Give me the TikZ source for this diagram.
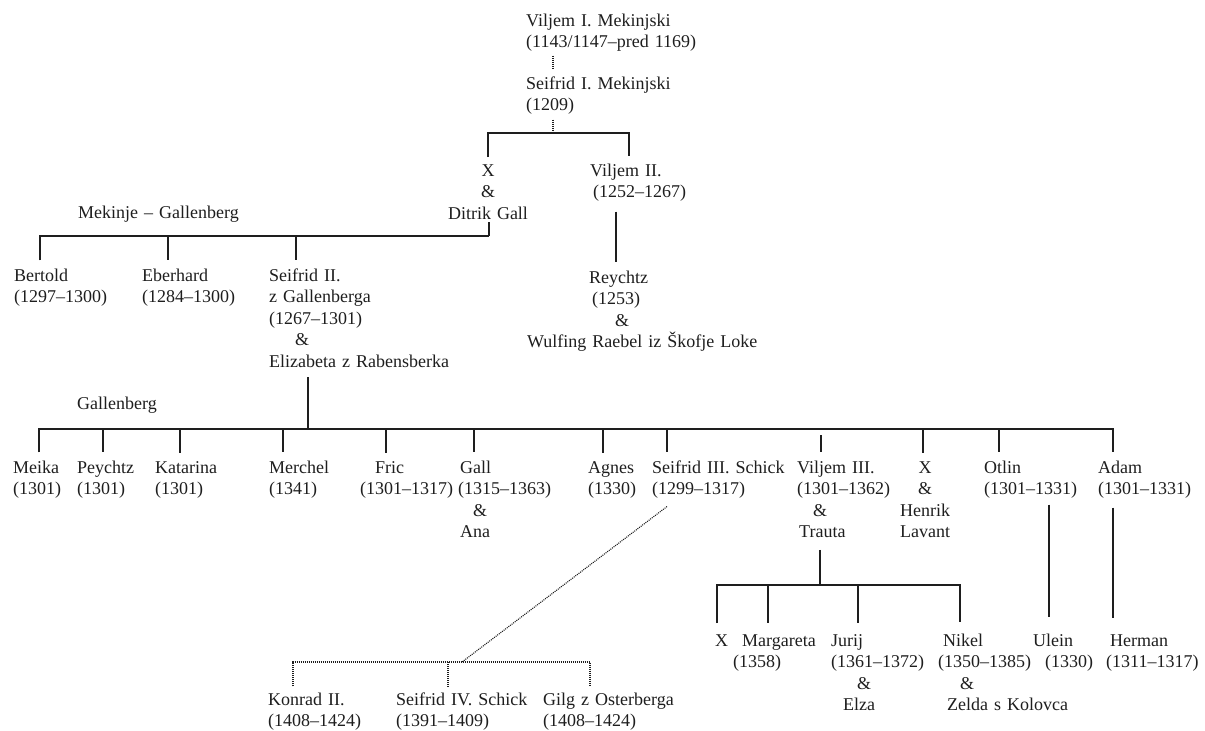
\documentclass[tikz,border=0pt]{standalone}
\usepackage{fontspec}
\setmainfont{Liberation Serif}
\usepackage{tikz}
\usetikzlibrary{calc}
\definecolor{ink}{HTML}{1E1E1E}
\tikzset{
  person/.style={inner sep=0pt, anchor=base west, text width=250pt, align=left, text=ink},
  couple/.style={inner sep=0pt, anchor=base, text width=120pt, align=center, text=ink},
  branch/.style={draw=ink, line width=1.4pt},
  dots/.style={draw=ink, line width=1.1pt, dash pattern=on 1pt off 1pt},
  drop/.style={branch, shorten >=8pt},
}

\begin{document}
\begin{tikzpicture}[x=1pt, y=-1pt, font=\fontsize{18}{21.5}\selectfont]
\useasboundingbox (0,0) rectangle (1205,731);

% first generations
\node[person] (viljem1) at (526,26) {Viljem I. Mekinjski\\(1143/1147--pred 1169)};
\node[person] (seifrid1) at (526,89) {Seifrid I. Mekinjski\\(1209)};
\node[couple] (xgall) at (488,176) {X\\\&\\Ditrik Gall};
\node[person] (viljem2) at (590,176) {Viljem II.\\\hspace*{3pt}(1252--1267)};
\node[person] (reychtz) at (527,283) {\hspace*{62pt}Reychtz\\\hspace*{65pt}(1253)\\\hspace*{88pt}\&\\Wulfing Raebel iz Škofje Loke};

\coordinate (fam1) at (553,133);
\draw[dots, shorten <=4pt, shorten >=8pt] (553,0 |- viljem1.south) -- (553,0 |- seifrid1.north);
\draw[dots, shorten <=5pt] (553,0 |- seifrid1.south) -- (fam1);
\draw[branch, shorten <=7pt, shorten >=7pt] (488,0 |- xgall.north) -- (488,0 |- fam1)
  -- (629,0 |- fam1) -- (629,0 |- viljem2.north);
\draw[branch, shorten <=10pt, shorten >=8pt] (616,0 |- viljem2.south) -- (616,0 |- reychtz.north);

% Mekinje - Gallenberg
\node[person] (mekinje) at (78,218) {Mekinje -- Gallenberg};
\node[person] (bertold) at (14,281) {Bertold\\(1297--1300)};
\node[person] (eberhard) at (142,281) {Eberhard\\(1284--1300)};
\node[person] (seifrid2) at (269,281) {Seifrid II.\\z Gallenberga\\(1267--1301)\\\hspace*{26pt}\&\\Elizabeta z Rabensberka};

\coordinate (fam2) at (489,236);
\draw[branch, shorten <=3pt] (489,0 |- xgall.south) -- (fam2);
\draw[branch, shorten <=8pt] (40,0 |- bertold.north) -- (40,0 |- fam2) -- (fam2);
\draw[drop] (168,0 |- fam2) -- (168,0 |- eberhard.north);
\draw[drop] (296,0 |- fam2) -- (296,0 |- seifrid2.north);

% Gallenberg
\node[person] (gallenberg) at (77,409) {Gallenberg};
\node[person] (meika) at (13,473) {Meika\\(1301)};
\node[person] (peychtz) at (77,473) {Peychtz\\(1301)};
\node[person] (katarina) at (155,473) {Katarina\\(1301)};
\node[person] (merchel) at (269,473) {Merchel\\(1341)};
\node[person] (fric) at (360,473) {\hspace*{15pt}Fric\\(1301--1317)};
\node[person] (gall) at (458,473) {\hspace*{2pt}Gall\\(1315--1363)\\\hspace*{15pt}\&\\\hspace*{2pt}Ana};
\node[person] (agnes) at (588,473) {Agnes\\(1330)};
\node[person] (seifrid3) at (652,473) {Seifrid III. Schick\\(1299--1317)};
\node[person] (viljem3) at (797,473) {Viljem III.\\(1301--1362)\\\hspace*{16pt}\&\\\hspace*{2pt}Trauta};
\node[couple] (xlavant) at (925,473) {X\\\&\\Henrik\\Lavant};
\node[person] (otlin) at (984,473) {Otlin\\(1301--1331)};
\node[person] (adam) at (1098,473) {Adam\\(1301--1331)};

\coordinate (fam3) at (308,429);
\coordinate (v3top) at (821,435);
\draw[branch, shorten <=10pt] (308,0 |- seifrid2.south) -- (fam3);
\draw[branch, shorten <=8pt, shorten >=8pt] (39,0 |- meika.north) -- (39,0 |- fam3)
  -- (1113,0 |- fam3) -- (1113,0 |- adam.north);
\foreach \x/\n in {103/peychtz, 180/katarina, 283/merchel, 386/fric, 474/gall,
  603/agnes, 667/seifrid3, 923/xlavant, 999/otlin}
  \draw[drop] (\x,0 |- fam3) -- (\x,0 |- \n.north);
\draw[drop] (v3top) -- (821,0 |- viljem3.north);

% children of Viljem III., Otlin and Adam
\node[person] (xchild) at (715,646) {X};
\node[person] (margareta) at (733,646) {\hspace*{9pt}Margareta\\(1358)};
\node[person] (jurij) at (831,646) {Jurij\\(1361--1372)\\\hspace*{26pt}\&\\\hspace*{12pt}Elza};
\node[person] (nikel) at (938,646) {\hspace*{5pt}Nikel\\(1350--1385)\\\hspace*{22pt}\&\\\hspace*{9pt}Zelda s Kolovca};
\node[person] (ulein) at (1033,646) {Ulein\\\hspace*{12pt}(1330)};
\node[person] (herman) at (1106,646) {\hspace*{4pt}Herman\\(1311--1317)};

\coordinate (fam4) at (820,585);
\draw[branch, shorten <=12pt] (820,0 |- viljem3.south) -- (fam4);
\draw[branch, shorten <=11pt, shorten >=11pt] (717,0 |- xchild.north) -- (717,0 |- fam4)
  -- (960,0 |- fam4) -- (960,0 |- nikel.north);
\draw[branch, shorten >=11pt] (768,0 |- fam4) -- (768,0 |- margareta.north);
\draw[branch, shorten >=11pt] (858,0 |- fam4) -- (858,0 |- jurij.north);
\draw[branch, shorten <=6pt, shorten >=16pt] (1049,0 |- otlin.south) -- (1049,0 |- ulein.north);
\draw[branch, shorten <=9pt, shorten >=16pt] (1113,0 |- adam.south) -- (1113,0 |- herman.north);

% Schick line
\node[person] (konrad) at (268,705) {Konrad II.\\(1408--1424)};
\node[person] (seifrid4) at (396,705) {Seifrid IV. Schick\\(1391--1409)};
\node[person] (gilg) at (543,705) {Gilg z Osterberga\\(1408--1424)};

\coordinate (fam5) at (462,662);
\draw[dots] ($(667,0 |- seifrid3.south)+(0,8)$) -- (fam5);
\draw[dots, shorten <=6pt, shorten >=6pt] (293,0 |- konrad.north) -- (293,0 |- fam5)
  -- (590,0 |- fam5) -- (590,0 |- gilg.north);
\draw[dots, shorten >=6pt] (448,0 |- fam5) -- (448,0 |- seifrid4.north);

\end{tikzpicture}
\end{document}
